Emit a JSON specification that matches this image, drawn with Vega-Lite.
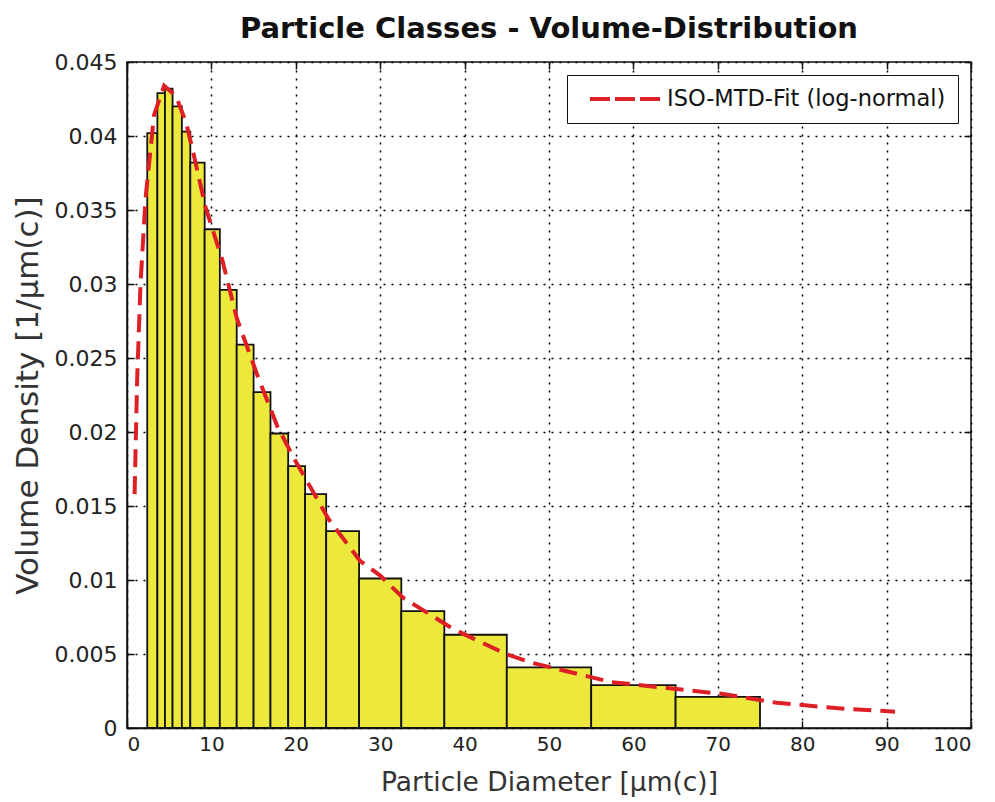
{
  "$schema": "https://vega.github.io/schema/vega-lite/v6.json",
  "width": 844,
  "height": 666,
  "autosize": "none",
  "padding": {"left": 127, "top": 62, "right": 24, "bottom": 74},
  "background": "white",
  "title": {"text": "Particle Classes - Volume-Distribution", "font": "DejaVu Sans", "fontSize": 29, "fontWeight": "bold", "color": "#111", "anchor": "middle", "offset": 7},
  "config": {
    "view": {"stroke": "#111", "strokeWidth": 1.5},
    "axis": {
      "labelFont": "DejaVu Sans", "titleFont": "DejaVu Sans",
      "labelColor": "#222", "titleColor": "#333",
      "titleFontWeight": "normal", "domainColor": "#111", "domainWidth": 1.5,
      "tickColor": "#111", "tickSize": -7, "tickWidth": 1.5,
      "gridColor": "#000", "gridOpacity": 1, "gridDash": [2, 6], "gridWidth": 1.5
    }
  },
  "resolve": {"axis": {"x": "independent", "y": "independent"}},
  "datasets": {
    "bars": [
      {"x0": 2.4, "x1": 3.6, "density": 0.0402},
      {"x0": 3.6, "x1": 4.5, "density": 0.0429},
      {"x0": 4.5, "x1": 5.4, "density": 0.0432},
      {"x0": 5.4, "x1": 6.5, "density": 0.0420},
      {"x0": 6.5, "x1": 7.5, "density": 0.0403},
      {"x0": 7.5, "x1": 9.2, "density": 0.0382},
      {"x0": 9.2, "x1": 11.0, "density": 0.0337},
      {"x0": 11.0, "x1": 13.0, "density": 0.0296},
      {"x0": 13.0, "x1": 15.0, "density": 0.0259},
      {"x0": 15.0, "x1": 17.0, "density": 0.0227},
      {"x0": 17.0, "x1": 19.1, "density": 0.0199},
      {"x0": 19.1, "x1": 21.1, "density": 0.0177},
      {"x0": 21.1, "x1": 23.6, "density": 0.0158},
      {"x0": 23.6, "x1": 27.5, "density": 0.0133},
      {"x0": 27.5, "x1": 32.5, "density": 0.0101},
      {"x0": 32.5, "x1": 37.6, "density": 0.0079},
      {"x0": 37.6, "x1": 45.0, "density": 0.0063},
      {"x0": 45.0, "x1": 55.0, "density": 0.0041},
      {"x0": 55.0, "x1": 65.0, "density": 0.0029},
      {"x0": 65.0, "x1": 75.0, "density": 0.0021}
    ],
    "fit": [
      {"d": 0.9, "v": 0.0158, "s": "ISO-MTD-Fit (log-normal)"},
      {"d": 1.2, "v": 0.0235, "s": "ISO-MTD-Fit (log-normal)"},
      {"d": 1.6, "v": 0.0300, "s": "ISO-MTD-Fit (log-normal)"},
      {"d": 2.2, "v": 0.0358, "s": "ISO-MTD-Fit (log-normal)"},
      {"d": 3.2, "v": 0.0414, "s": "ISO-MTD-Fit (log-normal)"},
      {"d": 4.4, "v": 0.0434, "s": "ISO-MTD-Fit (log-normal)"},
      {"d": 5.8, "v": 0.0427, "s": "ISO-MTD-Fit (log-normal)"},
      {"d": 7.0, "v": 0.0409, "s": "ISO-MTD-Fit (log-normal)"},
      {"d": 7.8, "v": 0.0390, "s": "ISO-MTD-Fit (log-normal)"},
      {"d": 9.3, "v": 0.0352, "s": "ISO-MTD-Fit (log-normal)"},
      {"d": 11.3, "v": 0.0316, "s": "ISO-MTD-Fit (log-normal)"},
      {"d": 13.0, "v": 0.0277, "s": "ISO-MTD-Fit (log-normal)"},
      {"d": 15.4, "v": 0.0239, "s": "ISO-MTD-Fit (log-normal)"},
      {"d": 17.8, "v": 0.0204, "s": "ISO-MTD-Fit (log-normal)"},
      {"d": 19.8, "v": 0.0182, "s": "ISO-MTD-Fit (log-normal)"},
      {"d": 21.7, "v": 0.0163, "s": "ISO-MTD-Fit (log-normal)"},
      {"d": 23.9, "v": 0.0141, "s": "ISO-MTD-Fit (log-normal)"},
      {"d": 27.6, "v": 0.0113, "s": "ISO-MTD-Fit (log-normal)"},
      {"d": 30.0, "v": 0.0103, "s": "ISO-MTD-Fit (log-normal)"},
      {"d": 32.7, "v": 0.0088, "s": "ISO-MTD-Fit (log-normal)"},
      {"d": 34.7, "v": 0.0081, "s": "ISO-MTD-Fit (log-normal)"},
      {"d": 38.6, "v": 0.0067, "s": "ISO-MTD-Fit (log-normal)"},
      {"d": 44.9, "v": 0.0050, "s": "ISO-MTD-Fit (log-normal)"},
      {"d": 48.0, "v": 0.0044, "s": "ISO-MTD-Fit (log-normal)"},
      {"d": 57.4, "v": 0.0031, "s": "ISO-MTD-Fit (log-normal)"},
      {"d": 64.0, "v": 0.0027, "s": "ISO-MTD-Fit (log-normal)"},
      {"d": 70.6, "v": 0.0023, "s": "ISO-MTD-Fit (log-normal)"},
      {"d": 77.0, "v": 0.0017, "s": "ISO-MTD-Fit (log-normal)"},
      {"d": 80.0, "v": 0.00155, "s": "ISO-MTD-Fit (log-normal)"},
      {"d": 85.0, "v": 0.0013, "s": "ISO-MTD-Fit (log-normal)"},
      {"d": 91.0, "v": 0.0011, "s": "ISO-MTD-Fit (log-normal)"}
    ]
  },
  "layer": [
    {
      "data": {"name": "bars"},
      "mark": {"type": "rect", "fill": "#ece83c", "stroke": "#111", "strokeWidth": 1.8},
      "encoding": {
        "x": {"field": "x0", "type": "quantitative", "scale": {"domain": [0, 100], "nice": false},
              "axis": {"values": [0,10,20,30,40,50,60,70,80,90,100], "title": "Particle Diameter [µm(c)]", "grid": true, "labelFontSize": 20, "titleFontSize": 26.5, "labelPadding": 13, "titlePadding": 15}},
        "x2": {"field": "x1"},
        "y": {"field": "density", "type": "quantitative", "scale": {"domain": [0, 0.045], "nice": false},
              "axis": {"values": [0,0.005,0.01,0.015,0.02,0.025,0.03,0.035,0.04,0.045], "format": "~g", "title": "Volume Density [1/µm(c)]", "grid": true, "labelFontSize": 22, "titleFontSize": 31, "labelPadding": 17, "titlePadding": 10}},
        "y2": {"datum": 0}
      }
    },
    {
      "data": {"name": "fit"},
      "mark": {"type": "line", "strokeWidth": 4, "strokeDash": [18, 9]},
      "encoding": {
        "x": {"field": "d", "type": "quantitative",
              "axis": {"orient": "top", "values": [0,10,20,30,40,50,60,70,80,90,100], "labels": false, "title": null, "grid": false, "domain": false}},
        "y": {"field": "v", "type": "quantitative",
              "axis": {"orient": "right", "values": [0,0.005,0.01,0.015,0.02,0.025,0.03,0.035,0.04,0.045], "labels": false, "title": null, "grid": false, "domain": false}},
        "color": {"field": "s", "type": "nominal", "scale": {"range": ["#dd1f26"]},
                  "legend": {"title": null, "orient": "none", "legendX": 440, "legendY": 13,
                             "symbolType": "M-3.5,0H3.5", "symbolSize": 400, "symbolStrokeWidth": 4, "symbolDash": [20, 5],
                             "symbolOffset": 34, "labelOffset": 30, "labelLimit": 400,
                             "labelFont": "DejaVu Sans", "labelFontSize": 22.5, "labelColor": "#111",
                             "strokeColor": "#111", "fillColor": "white", "padding": 12}}
      }
    }
  ]
}
